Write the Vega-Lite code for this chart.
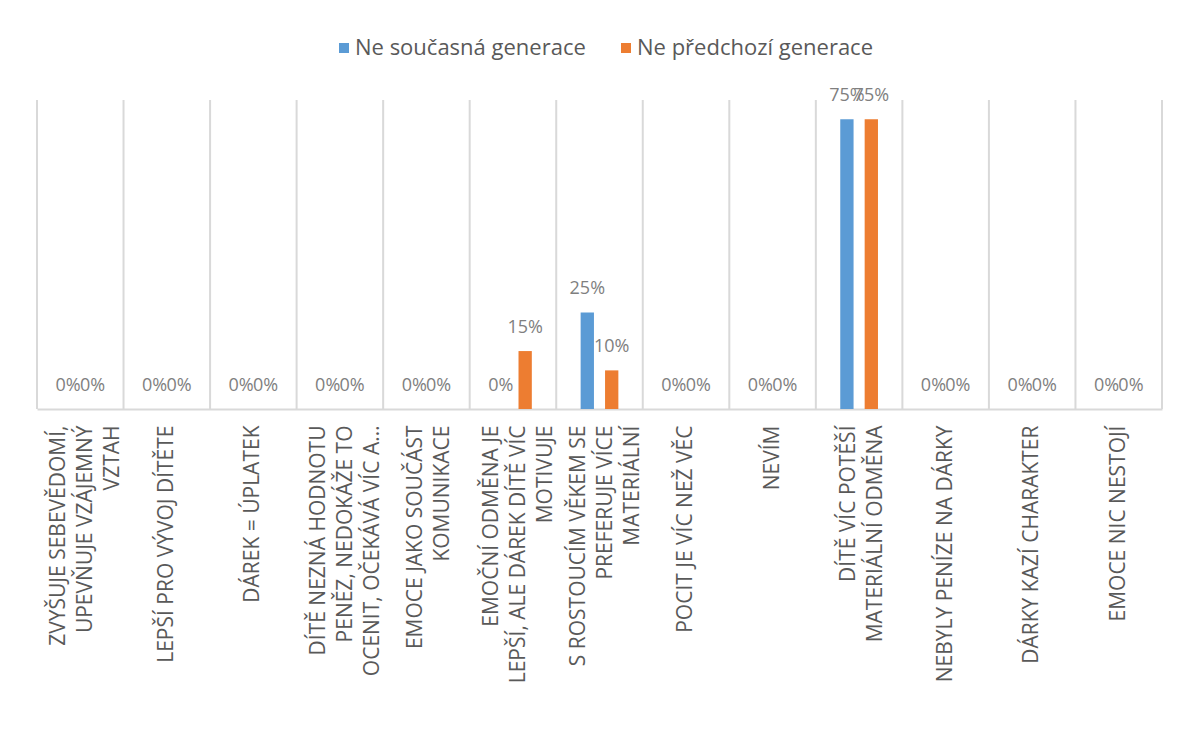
{
  "$schema": "https://vega.github.io/schema/vega-lite/v6.json",
  "width": 1125,
  "height": 309,
  "autosize": {"type": "none"},
  "padding": {"left": 37, "top": 100, "right": 18, "bottom": 333},
  "background": "white",
  "config": {
    "view": {"stroke": null},
    "font": "Open Sans"
  },
  "datasets": {
    "bars": [
      {"category": "ZVYŠUJE SEBEVĚDOMÍ,\nUPEVŇUJE VZÁJEMNÝ\nVZTAH", "series": "Ne současná generace", "value": 0},
      {"category": "ZVYŠUJE SEBEVĚDOMÍ,\nUPEVŇUJE VZÁJEMNÝ\nVZTAH", "series": "Ne předchozí generace", "value": 0},
      {"category": "LEPŠÍ PRO VÝVOJ DÍTĚTE", "series": "Ne současná generace", "value": 0},
      {"category": "LEPŠÍ PRO VÝVOJ DÍTĚTE", "series": "Ne předchozí generace", "value": 0},
      {"category": "DÁREK = ÚPLATEK", "series": "Ne současná generace", "value": 0},
      {"category": "DÁREK = ÚPLATEK", "series": "Ne předchozí generace", "value": 0},
      {"category": "DÍTĚ NEZNÁ HODNOTU\nPENĚZ, NEDOKÁŽE TO\nOCENIT, OČEKÁVÁ VÍC A…", "series": "Ne současná generace", "value": 0},
      {"category": "DÍTĚ NEZNÁ HODNOTU\nPENĚZ, NEDOKÁŽE TO\nOCENIT, OČEKÁVÁ VÍC A…", "series": "Ne předchozí generace", "value": 0},
      {"category": "EMOCE JAKO SOUČÁST\nKOMUNIKACE", "series": "Ne současná generace", "value": 0},
      {"category": "EMOCE JAKO SOUČÁST\nKOMUNIKACE", "series": "Ne předchozí generace", "value": 0},
      {"category": "EMOČNÍ ODMĚNA JE\nLEPŠÍ, ALE DÁREK DÍTĚ VÍC\nMOTIVUJE", "series": "Ne současná generace", "value": 0},
      {"category": "EMOČNÍ ODMĚNA JE\nLEPŠÍ, ALE DÁREK DÍTĚ VÍC\nMOTIVUJE", "series": "Ne předchozí generace", "value": 0.15},
      {"category": "S ROSTOUCÍM VĚKEM SE\nPREFERUJE VÍCE\nMATERIÁLNÍ", "series": "Ne současná generace", "value": 0.25},
      {"category": "S ROSTOUCÍM VĚKEM SE\nPREFERUJE VÍCE\nMATERIÁLNÍ", "series": "Ne předchozí generace", "value": 0.10},
      {"category": "POCIT JE VÍC NEŽ VĚC", "series": "Ne současná generace", "value": 0},
      {"category": "POCIT JE VÍC NEŽ VĚC", "series": "Ne předchozí generace", "value": 0},
      {"category": "NEVÍM", "series": "Ne současná generace", "value": 0},
      {"category": "NEVÍM", "series": "Ne předchozí generace", "value": 0},
      {"category": "DÍTĚ VÍC POTĚŠÍ\nMATERIÁLNÍ ODMĚNA", "series": "Ne současná generace", "value": 0.75},
      {"category": "DÍTĚ VÍC POTĚŠÍ\nMATERIÁLNÍ ODMĚNA", "series": "Ne předchozí generace", "value": 0.75},
      {"category": "NEBYLY PENÍZE NA DÁRKY", "series": "Ne současná generace", "value": 0},
      {"category": "NEBYLY PENÍZE NA DÁRKY", "series": "Ne předchozí generace", "value": 0},
      {"category": "DÁRKY KAZÍ CHARAKTER", "series": "Ne současná generace", "value": 0},
      {"category": "DÁRKY KAZÍ CHARAKTER", "series": "Ne předchozí generace", "value": 0},
      {"category": "EMOCE NIC NESTOJÍ", "series": "Ne současná generace", "value": 0},
      {"category": "EMOCE NIC NESTOJÍ", "series": "Ne předchozí generace", "value": 0}
    ],
    "cats": [
      {"category": "ZVYŠUJE SEBEVĚDOMÍ,\nUPEVŇUJE VZÁJEMNÝ\nVZTAH"},
      {"category": "LEPŠÍ PRO VÝVOJ DÍTĚTE"},
      {"category": "DÁREK = ÚPLATEK"},
      {"category": "DÍTĚ NEZNÁ HODNOTU\nPENĚZ, NEDOKÁŽE TO\nOCENIT, OČEKÁVÁ VÍC A…"},
      {"category": "EMOCE JAKO SOUČÁST\nKOMUNIKACE"},
      {"category": "EMOČNÍ ODMĚNA JE\nLEPŠÍ, ALE DÁREK DÍTĚ VÍC\nMOTIVUJE"},
      {"category": "S ROSTOUCÍM VĚKEM SE\nPREFERUJE VÍCE\nMATERIÁLNÍ"},
      {"category": "POCIT JE VÍC NEŽ VĚC"},
      {"category": "NEVÍM"},
      {"category": "DÍTĚ VÍC POTĚŠÍ\nMATERIÁLNÍ ODMĚNA"},
      {"category": "NEBYLY PENÍZE NA DÁRKY"},
      {"category": "DÁRKY KAZÍ CHARAKTER"},
      {"category": "EMOCE NIC NESTOJÍ"}
    ]
  },
  "layer": [
    {
      "data": {"name": "bars"},
      "mark": {"type": "bar"},
      "encoding": {
        "x": {
          "field": "category", "type": "nominal", "sort": null,
          "scale": {"paddingInner": 0, "paddingOuter": 0},
          "axis": {
            "title": null,
            "labelAngle": -90,
            "labelExpr": "split(datum.label, '\\n')",
            "labelFont": "Open Sans",
            "labelFontSize": 21,
            "labelLineHeight": 27,
            "labelColor": "#595959",
            "labelPadding": 16,
            "labelLimit": 500,
            "labelOffset": {
              "condition": [
                {"test": "length(split(datum.value, '\\n')) == 3", "value": -21},
                {"test": "length(split(datum.value, '\\n')) == 2", "value": -10}
              ],
              "value": 0
            },
            "ticks": false,
            "tickSize": 0,
            "domain": true,
            "domainColor": "#d9d9d9",
            "domainWidth": 2,
            "grid": false
          }
        },
        "xOffset": {
          "field": "series", "type": "nominal",
          "scale": {"domain": ["Ne současná generace", "Ne předchozí generace"], "paddingInner": 0.4545, "paddingOuter": 1.193}
        },
        "y": {
          "field": "value", "type": "quantitative",
          "scale": {"domain": [0, 0.8], "nice": false, "zero": true},
          "axis": null
        },
        "color": {
          "field": "series", "type": "nominal",
          "scale": {"domain": ["Ne současná generace", "Ne předchozí generace"], "range": ["#5b9bd5", "#ed7d31"]},
          "legend": {
            "title": null,
            "orient": "none",
            "legendX": 296,
            "legendY": -63,
            "direction": "horizontal",
            "padding": 0,
            "symbolType": "square",
            "symbolSize": 100,
            "symbolStrokeWidth": 0,
            "labelFont": "Open Sans",
            "labelFontSize": 22,
            "labelColor": "#595959",
            "labelOffset": 0,
            "columnPadding": 29,
            "labelLimit": 400
          }
        }
      }
    },
    {
      "data": {"name": "bars"},
      "mark": {"type": "text", "dy": -18, "baseline": "alphabetic", "align": "center", "font": "Open Sans", "fontSize": 18, "color": "#7f7f7f"},
      "encoding": {
        "x": {"field": "category", "type": "nominal", "sort": null},
        "xOffset": {"field": "series", "type": "nominal"},
        "y": {"field": "value", "type": "quantitative"},
        "text": {"field": "value", "type": "quantitative", "format": ".0%"}
      }
    },
    {
      "data": {"name": "cats"},
      "mark": {"type": "rule", "color": "#d9d9d9", "strokeWidth": 2},
      "encoding": {
        "x": {"field": "category", "type": "nominal", "sort": null, "bandPosition": 0},
        "y": {"datum": 0, "type": "quantitative"},
        "y2": {"datum": 0.8}
      }
    },
    {
      "data": {"name": "cats"},
      "transform": [{"filter": "datum.category == 'EMOCE NIC NESTOJÍ'"}],
      "mark": {"type": "rule", "color": "#d9d9d9", "strokeWidth": 2},
      "encoding": {
        "x": {"field": "category", "type": "nominal", "sort": null, "bandPosition": 1},
        "y": {"datum": 0, "type": "quantitative"},
        "y2": {"datum": 0.8}
      }
    }
  ]
}
